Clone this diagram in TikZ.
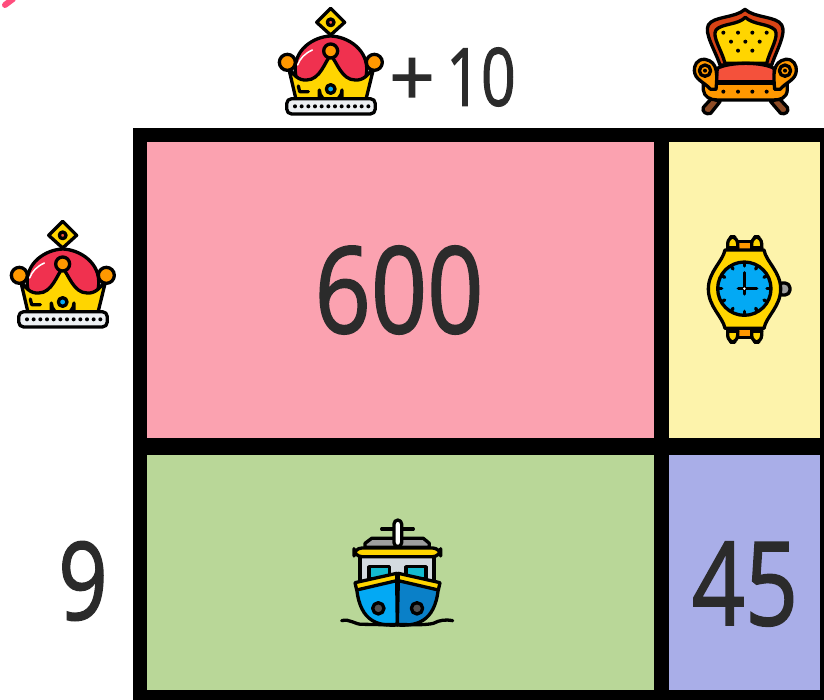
\documentclass[tikz,border=0pt]{standalone}
\usepackage{fontspec}
\setmainfont{Open Sans}[FakeBold=1.6]
\usetikzlibrary{calc}
\definecolor{ink}{HTML}{2B2B2B}
\definecolor{cellred}{HTML}{FBA2B0}
\definecolor{cellyellow}{HTML}{FDF3AB}
\definecolor{cellgreen}{HTML}{B9D798}
\definecolor{cellblue}{HTML}{A9AEE8}
\definecolor{gold}{HTML}{FFD500}
\definecolor{amber}{HTML}{FF9800}
\definecolor{rosered}{HTML}{F0314F}
\definecolor{tomato}{HTML}{F4513B}
\definecolor{rust}{HTML}{D84315}
\definecolor{sky}{HTML}{03A9F4}
\definecolor{deepsky}{HTML}{0A80C8}
\definecolor{teal2}{HTML}{13BBD0}
\definecolor{pale}{HTML}{D3DAE0}
\definecolor{greyish}{HTML}{9E9E9E}
\definecolor{wood}{HTML}{8D4B25}
\definecolor{pinkmark}{HTML}{FF4D7D}
\tikzset{
  num/.style={text=ink,inner sep=0pt,font=\fontsize{#1}{#1}\selectfont},
  ol/.style={draw=black,line width=3.3pt,line join=round,line cap=round},
  crownicon/.pic={
    \path[ol,fill=rosered] (112,265) -- (106,215) .. controls (100,150) and (160,110) .. (212,108) .. controls (265,110) and (325,150) .. (320,215) -- (314,265) -- cycle;
    \path[draw=white,line width=1.5pt,line cap=round] (113,195) .. controls (120,175) and (135,160) .. (157,150);
    \path[ol,fill=gold] (85,200) -- (108,298) -- (318,298) -- (342,200) .. controls (325,225) and (310,242) .. (285,240) .. controls (245,240) and (230,185) .. (212,165) .. controls (195,185) and (180,240) .. (140,240) .. controls (115,242) and (100,225) .. (85,200) -- cycle;
    \path[ol,fill=gold] (212,25) -- (254,67) -- (212,105) -- (170,67) -- cycle;
    \path[ol,fill=tomato] (212,67) circle (10);
    \path[ol,fill=amber] (82,187) circle (24);
    \path[ol,fill=amber] (343,187) circle (24);
    \path[ol,fill=amber] (212,153) circle (21);
    \path[ol,fill=tomato] (178,298) -- (178,270) arc[start angle=180,end angle=0,radius=34] -- (246,298) -- cycle;
    \path[ol,fill=sky] (212,267) circle (13);
    \path[ol,fill=none] (115,258) -- (119,275) -- (145,275);
    \path[ol,fill=pale!40!white,rounded corners=5pt] (80,296) rectangle (346,342);
    \foreach \dx in {0,...,11} \fill[black] (105+\dx*20,319) circle (6);
  },
  chairicon/.pic={
    \path[ol,fill=wood] (70,322) -- (95,295) -- (120,305) -- (92,340) .. controls (78,345) and (65,335) .. (70,322) -- cycle;
    \path[ol,fill=wood] (322,322) -- (297,295) -- (272,305) -- (302,340) .. controls (316,345) and (328,335) .. (322,322) -- cycle;
    \path[ol,fill=rust] (120,195) .. controls (105,150) and (72,100) .. (85,75) .. controls (100,48) and (165,55) .. (195,28) .. controls (225,55) and (290,48) .. (305,75) .. controls (320,100) and (290,150) .. (275,195) -- cycle;
    \path[ol,fill=gold] (135,190) .. controls (125,150) and (95,110) .. (108,90) .. controls (125,70) and (175,75) .. (196,52) .. controls (220,75) and (265,70) .. (285,90) .. controls (298,110) and (270,150) .. (260,190) -- cycle;
    \foreach \a/\b in {130/98,174/98,217/98,260/98,153/125,196/125,239/125,174/152,217/152} \fill[black] (\a,\b) circle (6);
    \path[ol,fill=tomato] (108,245) -- (112,205) .. controls (150,185) and (245,185) .. (282,205) -- (286,245) -- cycle;
    \path[ol,fill=amber] (70,250) -- (322,250) -- (322,270) .. controls (320,295) and (300,300) .. (280,300) -- (112,300) .. controls (90,300) and (72,290) .. (70,270) -- cycle;
    \path[ol,fill=amber] (108,268) .. controls (112,225) and (115,185) .. (75,178) .. controls (50,176) and (42,198) .. (43,212) .. controls (45,240) and (70,244) .. (92,268) -- cycle;
    \path[ol,fill=amber] (284,268) .. controls (280,225) and (277,185) .. (317,178) .. controls (342,176) and (350,198) .. (349,212) .. controls (347,240) and (322,244) .. (300,268) -- cycle;
    \path[ol,fill=amber] (75,212) circle (17);
    \fill[black] (75,212) circle (6);
    \path[ol,fill=amber] (315,212) circle (17);
    \fill[black] (315,212) circle (6);
    \foreach \a in {130,174,217,260} \fill[black] (\a,275) circle (6);
  },
  watchicon/.pic={
    \path[ol,fill=amber] (128,50) rectangle (200,90);
    \path[ol,fill=amber] (128,298) rectangle (200,338);
    \path[ol,fill=gold,rounded corners=7pt] (113,35) rectangle (143,98);
    \path[ol,fill=gold,rounded corners=7pt] (185,35) rectangle (215,98);
    \path[ol,fill=gold,rounded corners=7pt] (113,288) rectangle (143,352);
    \path[ol,fill=gold,rounded corners=7pt] (185,288) rectangle (215,352);
    \draw[ol] (113,67) -- (143,67) (185,67) -- (215,67) (113,320) -- (143,320) (185,320) -- (215,320);
    \path[ol,fill=greyish,rounded corners=5pt] (262,174) rectangle (300,210);
    \path[ol,fill=gold] (105,75) -- (222,75) .. controls (228,110) and (272,140) .. (272,192) .. controls (272,245) and (228,275) .. (222,310) -- (105,310) .. controls (98,275) and (55,245) .. (55,192) .. controls (55,140) and (98,110) .. (105,75) -- cycle;
    \path[ol,fill=sky] (163,191) circle (80);
    \foreach \t in {0,30,...,330} \draw[ol] ($(163,191)+(\t:78)$) -- ($(163,191)+(\t:68)$);
    \draw[ol] (163,191) -- (163,143) (163,191) -- (200,191) (163,191) -- (145,191) (163,191) -- (163,207);
    \fill[white] (163,191) circle (4);
  },
  shipicon/.pic={
    \path[ol,fill=greyish] (105,112) -- (105,100) -- (125,85) -- (280,85) -- (298,100) -- (298,112) -- cycle;
    \draw[ol] (155,57) -- (250,57);
    \path[ol,fill=white,rounded corners=4pt] (192,30) rectangle (215,110);
    \path[ol,fill=pale] (90,135) rectangle (312,220);
    \path[ol,fill=gold,rounded corners=8pt] (72,114) rectangle (332,140);
    \path[ol,fill=teal2] (117,205) -- (117,170) -- (178,170) -- (178,205) -- cycle;
    \path[ol,fill=teal2] (228,205) -- (228,170) -- (288,170) -- (288,205) -- cycle;
    \path[ol,fill=sky] (80,235) -- (200,210) -- (202,345) .. controls (150,348) and (90,340) .. (80,235) -- cycle;
    \path[ol,fill=deepsky] (325,235) -- (205,210) -- (202,345) .. controls (255,348) and (315,340) .. (325,235) -- cycle;
    \path[ol,fill=gold] (75,218) -- (200,190) -- (200,212) -- (80,240) -- cycle;
    \path[ol,fill=gold] (330,218) -- (205,190) -- (205,212) -- (325,240) -- cycle;
    \path[ol,fill=greyish!50!black] (145,295) circle (17);
    \path[ol,fill=greyish!50!black] (261,295) circle (17);
    \draw[ol] (202,265) -- (202,340);
    \draw[ol] (35,332) .. controls (60,325) and (75,345) .. (100,343) .. controls (125,343) and (150,345) .. (202,343) .. controls (250,345) and (290,345) .. (310,340) .. controls (330,330) and (345,328) .. (368,332);
  }
}
\begin{document}
\begin{tikzpicture}[x=1pt,y=-1pt]
\useasboundingbox (0,0) rectangle (824,700);
\fill[white] (0,0) rectangle (824,700);
\path[draw=pinkmark,line width=6pt,line cap=round] (5,5) -- (13,-1);
\fill[black] (133,128) rectangle (824,700);
\node[anchor=north west,fill=cellred,minimum width=507pt,minimum height=296pt,inner sep=0pt] (c1) at (147,142) {};
\node[anchor=north west,fill=cellyellow,minimum width=151pt,minimum height=296pt,inner sep=0pt] (c2) at (669,142) {};
\node[anchor=north west,fill=cellgreen,minimum width=507pt,minimum height=235pt,inner sep=0pt] (c3) at (147,455) {};
\node[anchor=north west,fill=cellblue,minimum width=151pt,minimum height=235pt,inner sep=0pt] (c4) at (669,455) {};
\node[num=120,xscale=.82] (n600) at (399,290) {600};
\node[num=116,xscale=.8] (n45) at (745,584) {45};
\node[num=108,xscale=.8] (n9) at (83,581) {9};
\node[num=80] (nplus) at (412,82) {+};
\node[num=80,xscale=.76] (n10) at (481,77) {10};
\pic[scale=1/3] at (260,0) {crownicon};
\pic[scale=1/3] at (-8,213) {crownicon};
\pic[scale=1/3] at (680,0) {chairicon};
\pic[scale=1/3] at (690,225) {watchicon};
\pic[scale=1/3] at (330,510) {shipicon};
\end{tikzpicture}
\end{document}
